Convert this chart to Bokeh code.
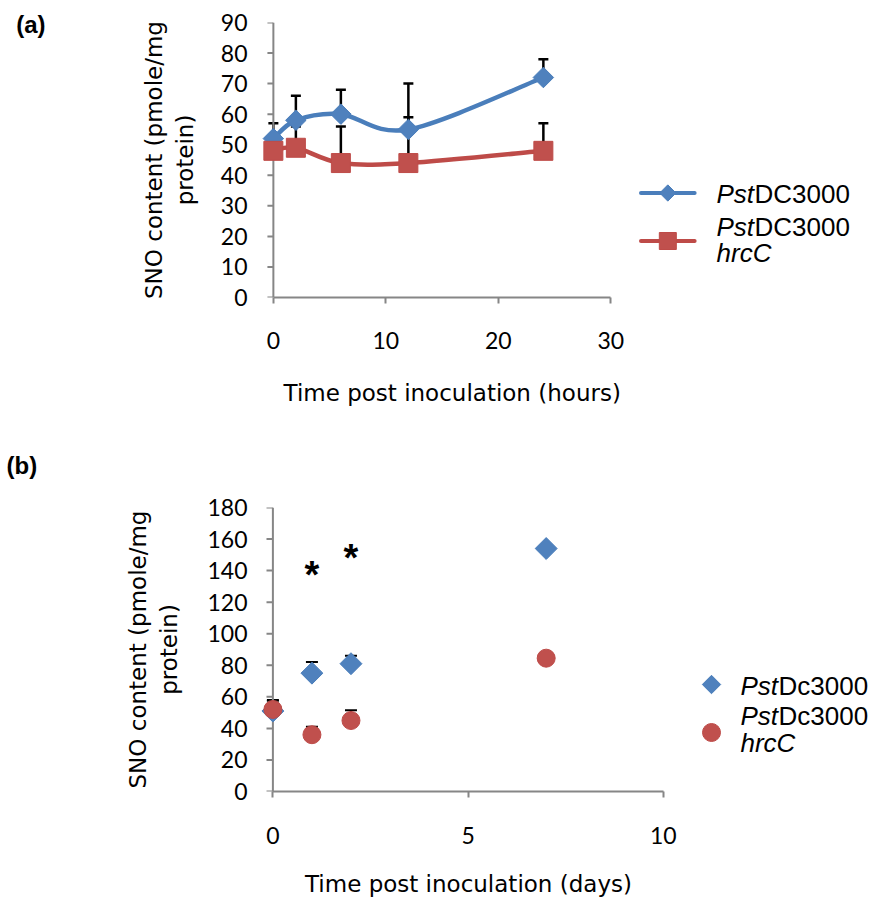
import math
from bokeh.plotting import figure
from bokeh.models import (Range1d, FixedTicker, Whisker, TeeHead, ColumnDataSource, Label, Title,
                          LinearAxis)
from bokeh.layouts import column
from bokeh.embed import file_html
from bokeh.resources import INLINE
from bokeh.core.properties import value

# ---------------- data: panel (a) ----------------
hours = [0, 2, 6, 12, 24]
pst_a = [52, 58, 60, 55, 72]
pst_a_err = [5, 8, 8, 15, 6]
hrcc_a = [48, 49, 44, 44, 48]
hrcc_a_err = [5, 7, 12, 15, 9]
a_xticks = [0, 10, 20, 30]
a_yticks = [0, 10, 20, 30, 40, 50, 60, 70, 80, 90]

# ---------------- data: panel (b) ----------------
days = [0, 1, 2, 7]
pst_b = [51, 75, 81, 154]
pst_b_err = [6.5, 7, 5, 2]
hrcc_b = [52, 36, 45, 84.5]
hrcc_b_err = [6, 5, 6.5, 2]
star_days = [1, 2]
star_y = [141, 152]
star_text = ["*", "*"]
b_xticks = [0, 5, 10]
b_yticks = [0, 20, 40, 60, 80, 100, 120, 140, 160, 180]

# ---------------- styles ----------------
BLUE_LINE = "#4A7EBB"
BLUE_FILL = "#4F81BD"
RED_LINE = "#BE4B48"
RED_FILL = "#C0504D"
AXIS = "#868686"
TICK_FONT = "Lato"
TITLE_FONT = "DejaVu Sans"
LEG_FONT = "Liberation Sans"

# geometry of panel (a) (canvas pixels)
A_H = 415
A_LEFT, A_TOP, A_BOTTOM = 252, 22, 297
A_X0, A_SX = -1.5, 11.323
A_SY = (A_BOTTOM - A_TOP) / 90.0

# geometry of panel (b) (canvas pixels, absolute)
B_H = 899 - A_H
B_OFF = A_H
B_LEFT, B_TOP, B_BOTTOM = 256, 507, 791
B_X0, B_SX = -0.42, 39.04
B_SY = (B_BOTTOM - B_TOP) / 180.0


def ax_(px):
    return A_X0 + (px - A_LEFT) / A_SX


def ay_(py):
    return (A_BOTTOM - py) / A_SY


def bx_(px):
    return B_X0 + (px - B_LEFT) / B_SX


def by_(py):
    return (B_BOTTOM - py) / B_SY


def smooth(xs, ys):
    n = len(xs)
    out = dict(x0=[], y0=[], x1=[], y1=[], cx0=[], cy0=[], cx1=[], cy1=[])
    for i in range(n - 1):
        ip = max(i - 1, 0)
        iq = min(i + 2, n - 1)
        out["x0"].append(xs[i]); out["y0"].append(ys[i])
        out["x1"].append(xs[i + 1]); out["y1"].append(ys[i + 1])
        out["cx0"].append(xs[i] + (xs[i + 1] - xs[ip]) / 6.0)
        out["cy0"].append(ys[i] + (ys[i + 1] - ys[ip]) / 6.0)
        out["cx1"].append(xs[i + 1] - (xs[iq] - xs[i]) / 6.0)
        out["cy1"].append(ys[i + 1] - (ys[iq] - ys[i]) / 6.0)
    return out


def text_axis(range_name, dim, tick, text, standoff, font, size, style="normal", lh=1.2):
    """An axis without line or ticks that carries one piece of text at a pixel position."""
    kw = dict(x_range_name=range_name) if dim == "x" else dict(y_range_name=range_name)
    return LinearAxis(ticker=FixedTicker(ticks=[tick]), major_label_overrides={tick: text},
                      axis_line_color=None, major_tick_line_color=None, minor_tick_line_color=None,
                      major_tick_in=0, major_tick_out=0, major_label_standoff=standoff,
                      major_label_text_font=font, major_label_text_font_size=f"{size}px",
                      major_label_text_font_style=style, major_label_text_color="black",
                      major_label_text_line_height=lh, **kw)


def style_axes(p, xticks, yticks, xbounds, ylabel, xstand, ystand, ylabstand, x_tick_px):
    p.grid.visible = False
    p.outline_line_color = None
    p.background_fill_color = "white"
    p.border_fill_color = "white"
    p.xaxis.bounds = xbounds
    p.xaxis.ticker = FixedTicker(ticks=xticks)
    p.yaxis.ticker = FixedTicker(ticks=yticks)
    for ax in p.axis:
        ax.axis_line_color = AXIS
        ax.axis_line_width = 2
        ax.major_tick_line_color = AXIS
        ax.major_tick_line_width = 2
        ax.major_tick_in = 0
        ax.major_tick_out = 6
        ax.minor_tick_line_color = None
        ax.major_label_text_font = TICK_FONT
        ax.major_label_text_font_size = "23px"
        ax.major_label_text_color = "black"
        ax.axis_label_text_font = TITLE_FONT
        ax.axis_label_text_font_size = "23px"
        ax.axis_label_text_font_style = "normal"
        ax.axis_label_text_color = "black"
    # the y axis line and its ticks are drawn at x = 0 (below); the axis keeps the labels
    p.yaxis.axis_line_color = None
    p.yaxis.major_tick_line_color = None
    p.yaxis.major_tick_out = 0
    p.yaxis.axis_label = ylabel
    p.yaxis.axis_label_text_line_height = 1.2
    p.xaxis.major_label_standoff = xstand
    p.yaxis.major_label_standoff = ystand
    p.yaxis.axis_label_standoff = ylabstand
    n = len(yticks)
    p.segment(x0=[0] * n, x1=[x_tick_px] * n, y0=yticks, y1=yticks,
              line_color=AXIS, line_width=2)
    p.segment(x0=[0], x1=[0], y0=[yticks[0]], y1=[yticks[-1]], line_color=AXIS, line_width=2)


def add_text(p, x, y, text, font, size, style="normal", align="left", x_offset=0):
    p.add_layout(Label(x=x, y=y, text=text, text_font=font, text_font_size=f"{size}px",
                       text_font_style=style, text_align=align, text_baseline="middle",
                       x_offset=x_offset, text_color="black"))


def errbars(p, xs, ys, errs, width, head):
    src = ColumnDataSource(dict(x=xs, lo=ys, up=[v + e for v, e in zip(ys, errs)]))
    w = Whisker(base="x", lower="lo", upper="up", source=src, dimension="height",
                line_color="black", line_width=width,
                upper_head=TeeHead(size=head, line_color="black", line_width=width),
                lower_head=None, level="underlay")
    p.add_layout(w)


# ================= panel (a) =================
pa = figure(width=871, height=A_H, x_range=Range1d(A_X0, ax_(871)), y_range=Range1d(0, 90),
            min_border_left=A_LEFT, min_border_right=0, min_border_top=A_TOP,
            min_border_bottom=A_H - A_BOTTOM, output_backend="svg", toolbar_location=None)
pa.extra_x_ranges = {"px": Range1d(A_LEFT, 871)}
pa.extra_y_ranges = {"py": Range1d(A_BOTTOM, A_TOP)}
style_axes(pa, a_xticks, a_yticks, (0, 30), "SNO content (pmole/mg\nprotein)", 28, 9, 20,
           ax_(263))
pa.add_layout(text_axis("px", "x", 449, "Time post inoculation (hours)", 28, TITLE_FONT, 23,
                        lh=0.8), "below")
pa.add_layout(text_axis("py", "y", 24, "(a)", 92, LEG_FONT, 24, "bold"), "left")

errbars(pa, hours, pst_a, pst_a_err, 2.5, 10)
errbars(pa, hours, hrcc_a, hrcc_a_err, 2.5, 10)

pa.bezier(source=ColumnDataSource(smooth(hours, pst_a)), x0="x0", y0="y0", x1="x1", y1="y1",
          cx0="cx0", cy0="cy0", cx1="cx1", cy1="cy1", line_color=BLUE_LINE, line_width=4.5,
          line_cap="round")
pa.scatter(hours, pst_a, marker="square", angle=math.pi / 4, size=14.5,
           fill_color=BLUE_FILL, line_color=BLUE_LINE)
pa.bezier(source=ColumnDataSource(smooth(hours, hrcc_a)), x0="x0", y0="y0", x1="x1", y1="y1",
          cx0="cx0", cy0="cy0", cx1="cx1", cy1="cy1", line_color=RED_LINE, line_width=4.5,
          line_cap="round")
pa.scatter(hours, hrcc_a, marker="square", size=19, fill_color=RED_FILL, line_color=RED_LINE)

# legend (a)
pa.line([ax_(639), ax_(693)], [ay_(192.5), ay_(192.5)], line_color=BLUE_LINE, line_width=4,
        line_cap="round")
pa.scatter([ax_(666)], [ay_(192.5)], marker="square", angle=math.pi / 4, size=11.5,
           fill_color=BLUE_FILL, line_color=BLUE_LINE)
pa.line([ax_(639), ax_(693)], [ay_(240.5), ay_(240.5)], line_color=RED_LINE, line_width=4,
        line_cap="round")
pa.scatter([ax_(666)], [ay_(240.5)], marker="square", size=17, fill_color=RED_FILL,
           line_color=RED_LINE)
add_text(pa, ax_(715), ay_(193), "Pst", LEG_FONT, 26, "italic")
add_text(pa, ax_(715), ay_(193), "DC3000", LEG_FONT, 26, "normal", x_offset=38)
add_text(pa, ax_(715), ay_(226.5), "Pst", LEG_FONT, 26, "italic")
add_text(pa, ax_(715), ay_(226.5), "DC3000", LEG_FONT, 26, "normal", x_offset=38)
add_text(pa, ax_(715), ay_(252), "hrcC", LEG_FONT, 26, "italic")

# ================= panel (b) =================
pb = figure(width=871, height=B_H, x_range=Range1d(B_X0, bx_(871)), y_range=Range1d(0, 180),
            min_border_left=B_LEFT, min_border_right=0, min_border_top=B_TOP - B_OFF,
            min_border_bottom=B_OFF + B_H - B_BOTTOM, output_backend="svg", toolbar_location=None)
pb.extra_x_ranges = {"px": Range1d(B_LEFT, 871)}
pb.add_layout(Title(text="(b)", align="left", offset=6 - B_LEFT, standoff=58,
                    text_font=LEG_FONT, text_font_size="24px", text_font_style="bold",
                    text_color="black"), "above")
style_axes(pb, b_xticks, b_yticks, (0, 10), "SNO content (pmole/mg\nprotein)", 29, 9, 22,
           bx_(266))
pb.add_layout(text_axis("px", "x", 468, "Time post inoculation (days)", 24, TITLE_FONT, 23,
                        lh=0.8), "below")

errbars(pb, days, pst_b, pst_b_err, 2, 12)
errbars(pb, days, hrcc_b, hrcc_b_err, 2, 12)

pb.scatter(days, pst_b, marker="square", angle=math.pi / 4, size=15.5,
           fill_color=BLUE_FILL, line_color=BLUE_LINE)
pb.scatter(days, hrcc_b, marker="circle", size=18, fill_color=RED_FILL, line_color=RED_LINE)
pb.text(star_days, star_y, text=star_text, text_font=value(LEG_FONT), text_font_style="bold",
        text_font_size=value("38px"), text_align="center", text_baseline="middle",
        text_color="black", y_offset=6)

# legend (b)
pb.scatter([bx_(711)], [by_(684)], marker="square", angle=math.pi / 4, size=13,
           fill_color=BLUE_FILL, line_color=BLUE_LINE)
pb.scatter([bx_(711)], [by_(732)], marker="circle", size=18, fill_color=RED_FILL,
           line_color=RED_LINE)
add_text(pb, bx_(740), by_(685), "Pst", LEG_FONT, 26, "italic")
add_text(pb, bx_(740), by_(685), "Dc3000", LEG_FONT, 26, "normal", x_offset=38)
add_text(pb, bx_(740), by_(715), "Pst", LEG_FONT, 26, "italic")
add_text(pb, bx_(740), by_(715), "Dc3000", LEG_FONT, 26, "normal", x_offset=38)
add_text(pb, bx_(740), by_(742), "hrcC", LEG_FONT, 26, "italic")

layout = column(pa, pb, spacing=0)
open("out.html", "w").write(file_html(layout, INLINE))
